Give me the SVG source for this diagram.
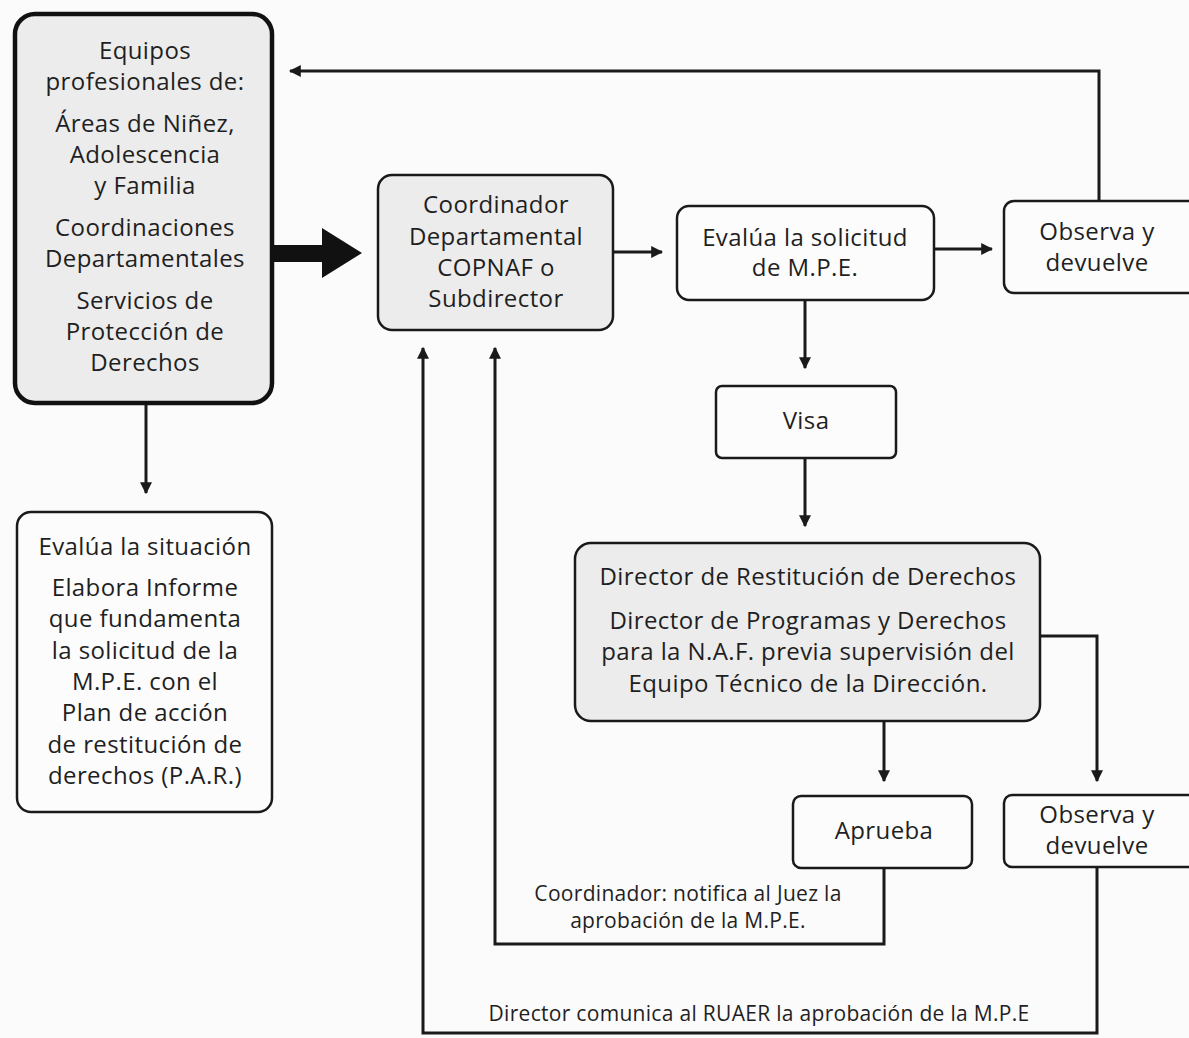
<svg xmlns="http://www.w3.org/2000/svg" width="1189" height="1038" viewBox="0 0 1189 1038">
<defs>
<style>
.t{font-family:"Open Sans",Lato,"Liberation Sans",sans-serif;font-size:24px;letter-spacing:0.4px;font-weight:500;fill:#1f1f1f;text-anchor:middle}
.s{font-family:"Open Sans",Lato,"Liberation Sans",sans-serif;font-size:21px;letter-spacing:0.3px;font-weight:500;fill:#1f1f1f;text-anchor:middle}
.g{fill:#ececec;stroke:#1a1a1a;stroke-width:2.5}
.w{fill:#fcfcfc;stroke:#1a1a1a;stroke-width:2.5}
.c{fill:none;stroke:#1a1a1a;stroke-width:3}
</style>
<marker id="ah" viewBox="0 0 10 10" refX="9" refY="5" markerWidth="4" markerHeight="4" orient="auto" markerUnits="strokeWidth">
<path d="M0,0 L10,5 L0,10 Z" fill="#1a1a1a"/>
</marker>
</defs>
<rect width="1189" height="1038" fill="#fbfbfb"/>

<g id="connectors">
<line class="c" x1="146" y1="403" x2="146" y2="493" marker-end="url(#ah)"/>
<polygon points="272,245 322,245 322,228 362,253 322,278 322,262 272,262" fill="#111"/>
<line class="c" x1="613" y1="252" x2="662" y2="252" marker-end="url(#ah)"/>
<line class="c" x1="934" y1="249" x2="992" y2="249" marker-end="url(#ah)"/>
<polyline class="c" points="1099,201 1099,71 290,71" marker-end="url(#ah)"/>
<line class="c" x1="805" y1="300" x2="805" y2="368" marker-end="url(#ah)"/>
<line class="c" x1="805" y1="458" x2="805" y2="526" marker-end="url(#ah)"/>
<line class="c" x1="884" y1="721" x2="884" y2="781" marker-end="url(#ah)"/>
<polyline class="c" points="1040,636 1097,636 1097,781" marker-end="url(#ah)"/>
<polyline class="c" points="884,868 884,944 495,944 495,348" marker-end="url(#ah)"/>
<polyline class="c" points="1097,867 1097,1033 423,1033 423,348" marker-end="url(#ah)"/>
<text class="s" x="688" y="901">Coordinador: notifica al Juez la</text>
<text class="s" x="688" y="928">aprobación de la M.P.E.</text>
<text class="s" x="759" y="1021">Director comunica al RUAER la aprobación de la M.P.E</text>
</g>

<g id="equipos">
<rect x="15" y="14" width="257" height="389" rx="20" fill="#ececec" stroke="#111" stroke-width="4.5"/>
<text class="t" x="145" y="59">Equipos</text>
<text class="t" x="145" y="90">profesionales de:</text>
<text class="t" x="145" y="132">Áreas de Niñez,</text>
<text class="t" x="145" y="163">Adolescencia</text>
<text class="t" x="145" y="194">y Familia</text>
<text class="t" x="145" y="236">Coordinaciones</text>
<text class="t" x="145" y="267">Departamentales</text>
<text class="t" x="145" y="309">Servicios de</text>
<text class="t" x="145" y="340">Protección de</text>
<text class="t" x="145" y="371">Derechos</text>
</g>

<g id="evalua-situacion">
<rect class="w" x="17" y="512" width="255" height="300" rx="14"/>
<text class="t" x="145" y="555">Evalúa la situación</text>
<text class="t" x="145" y="596">Elabora Informe</text>
<text class="t" x="145" y="627">que fundamenta</text>
<text class="t" x="145" y="659">la solicitud de la</text>
<text class="t" x="145" y="690">M.P.E. con el</text>
<text class="t" x="145" y="721">Plan de acción</text>
<text class="t" x="145" y="753">de restitución de</text>
<text class="t" x="145" y="784">derechos (P.A.R.)</text>
</g>

<g id="coordinador">
<rect class="g" x="378" y="175" width="235" height="155" rx="14"/>
<text class="t" x="496" y="213">Coordinador</text>
<text class="t" x="496" y="245">Departamental</text>
<text class="t" x="496" y="276">COPNAF o</text>
<text class="t" x="496" y="307">Subdirector</text>
</g>

<g id="evalua-solicitud">
<rect class="w" x="677" y="206" width="257" height="94" rx="12"/>
<text class="t" x="805" y="246">Evalúa la solicitud</text>
<text class="t" x="805" y="276">de M.P.E.</text>
</g>

<g id="observa-1">
<rect class="w" x="1004" y="201" width="196" height="92" rx="10"/>
<text class="t" x="1097" y="240">Observa y</text>
<text class="t" x="1097" y="271">devuelve</text>
</g>

<g id="visa">
<rect class="w" x="716" y="386" width="180" height="72" rx="6"/>
<text class="t" x="806" y="429">Visa</text>
</g>

<g id="director">
<rect class="g" x="575" y="543" width="465" height="178" rx="16"/>
<text class="t" x="808" y="585">Director de Restitución de Derechos</text>
<text class="t" x="808" y="629">Director de Programas y Derechos</text>
<text class="t" x="808" y="660">para la N.A.F. previa supervisión del</text>
<text class="t" x="808" y="692">Equipo Técnico de la Dirección.</text>
</g>

<g id="aprueba">
<rect class="w" x="793" y="796" width="179" height="72" rx="8"/>
<text class="t" x="884" y="839">Aprueba</text>
</g>

<g id="observa-2">
<rect class="w" x="1004" y="795" width="196" height="72" rx="8"/>
<text class="t" x="1097" y="823">Observa y</text>
<text class="t" x="1097" y="854">devuelve</text>
</g>
</svg>
